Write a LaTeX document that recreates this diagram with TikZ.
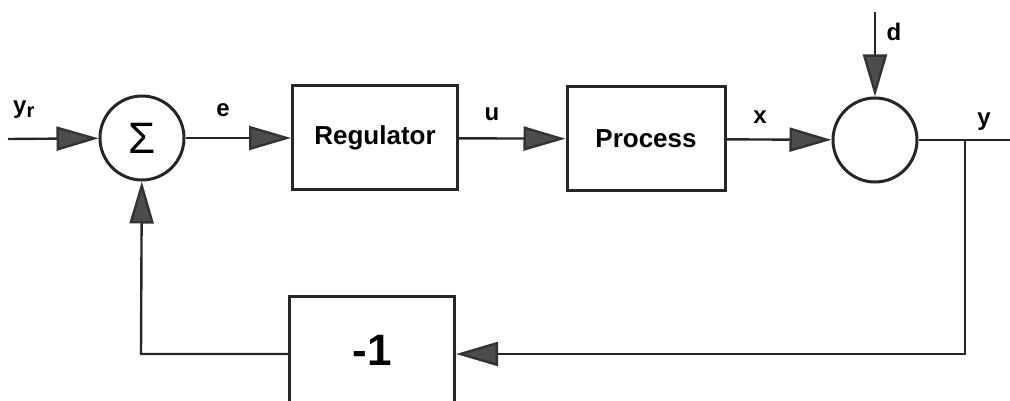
\documentclass[tikz,border=0pt]{standalone}
\usepackage{fontspec}
\setmainfont{Liberation Sans}
\usetikzlibrary{arrows.meta}
\begin{document}
\begin{tikzpicture}[x=1pt,y=-1pt,
  blk/.style={draw=black!85,line width=3pt,inner sep=0pt,font=\bfseries\fontsize{26}{30}\selectfont},
  sumnode/.style={circle,draw=black!85,line width=3pt,minimum size=84pt,inner sep=0pt},
  sig/.style={line width=2.4pt,draw=black!85},
  arr/.style={sig,-{Triangle[length=42pt,width=24pt,fill=black!70,color=black!80]}},
  lbl/.style={font=\bfseries\fontsize{24}{26}\selectfont}]
\clip (0,0) rectangle (1010,401);
\useasboundingbox (0,0) rectangle (1010,401);
% nodes
\coordinate (in) at (8,139);
\node[sumnode,font=\fontsize{44}{46}\selectfont] (s1) at (142,138) {Σ};
\node[blk,minimum width=165pt,minimum height=104pt] (reg) at (375,138) {Regulator};
\node[blk,minimum width=158pt,minimum height=104pt] (proc) at (646,139) {Process};
\node[sumnode] (s2) at (875,140) {};
\coordinate (dtop) at (875,12);
\coordinate (out) at (1012,140);
\coordinate (br) at (965,140);
\node[blk,minimum width=165pt,minimum height=108pt,font=\bfseries\fontsize{44}{48}\selectfont] (neg) at (372,350) {-1};
\coordinate (brd) at (965,354);
\coordinate (fbl) at (141,354);
% labels
\node[lbl] (lyr) at (24,110) {y\textsubscript{\fontsize{20}{20}\selectfont r}};
\node[lbl] (le) at (223,110) {e};
\node[lbl] (lu) at (492,114) {u};
\node[lbl] (lx) at (760,117) {x};
\node[lbl] (ld) at (894,32) {d};
\node[lbl] (ly) at (984,122) {y};
% connectors
\draw[arr] (in) -- (s1);
\draw[arr] (s1) -- (reg);
\draw[arr] (reg) -- (proc);
\draw[arr] (proc) -- (s2);
\draw[arr] (dtop) -- (s2);
\draw[sig] (s2) -- (out);
\draw[arr] (br) -- (brd) -- (brd -| neg.east);
\draw[arr] (fbl -| neg.west) -- (fbl) -- (s1);
\end{tikzpicture}
\end{document}
